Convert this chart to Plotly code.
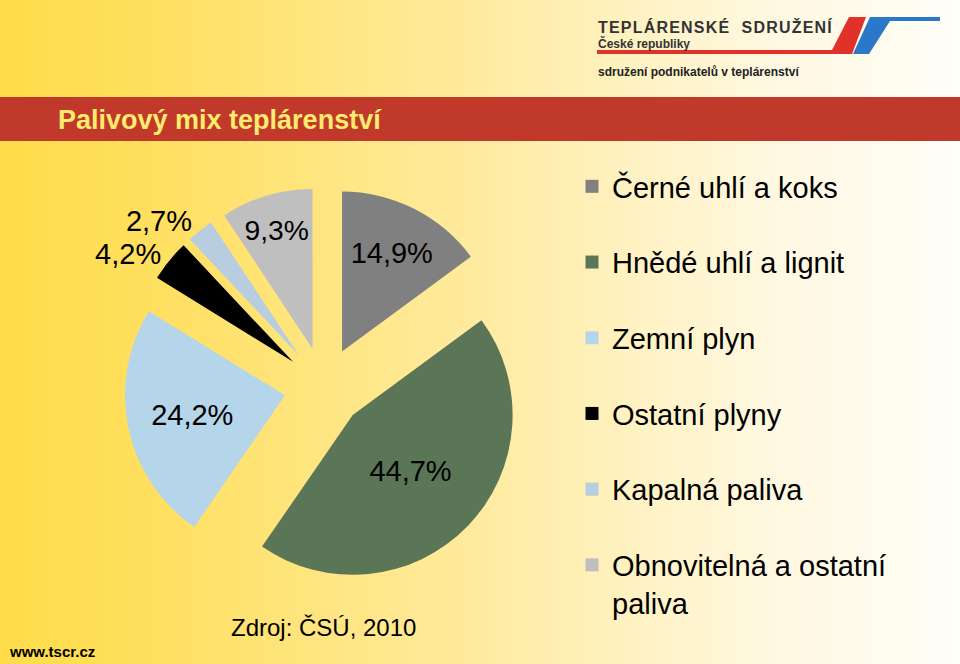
import plotly.graph_objects as go

# fuel mix of heat production, CZ 2010 (source: ČSÚ)
LABELS = [
    "Černé uhlí a koks",
    "Hnědé uhlí a lignit",
    "Zemní plyn",
    "Ostatní plyny",
    "Kapalná paliva",
    "Obnovitelná a ostatní paliva",
]
LEGEND_TEXT = [
    "Černé uhlí a koks",
    "Hnědé uhlí a lignit",
    "Zemní plyn",
    "Ostatní plyny",
    "Kapalná paliva",
    "Obnovitelná a ostatní<br>paliva",
]
SHARES = [14.9, 44.7, 24.2, 4.2, 2.7, 9.3]
COLORS = ["#808080", "#5A7656", "#B4D5EA", "#000000", "#B9CDE0", "#BFBFBF"]
TEXT_POS = ["inside", "inside", "inside", "outside", "outside", "inside"]

# horizontal background gradient (yellow -> off-white)
BG_X = [0, 1]
BG_SCALE = [
    [0.0, "#FFDC48"],
    [0.15, "#FFDF5E"],
    [0.5, "#FFEBA0"],
    [0.8, "#FFF8E0"],
    [1.0, "#FFFEF8"],
]

FONT = "Liberation Sans, Arial, sans-serif"

fig = go.Figure()

fig.add_trace(
    go.Heatmap(
        x=BG_X,
        y=[0],
        z=[BG_X],
        colorscale=BG_SCALE,
        zsmooth="best",
        showscale=False,
        hoverinfo="skip",
    )
)

fig.add_trace(
    go.Pie(
        labels=LABELS,
        values=SHARES,
        sort=False,
        direction="clockwise",
        rotation=0,
        pull=0.25,
        marker=dict(colors=COLORS, line=dict(width=0)),
        texttemplate="%{value:.1f}%",
        textposition=TEXT_POS,
        insidetextorientation="horizontal",
        textfont=dict(family=FONT, size=29, color="#000000"),
        showlegend=False,
        domain=dict(x=[0.129, 0.546], y=[0.116, 0.718]),
        hoverinfo="label+percent",
    )
)

# legend entries (one group each so the spacing can be opened up)
for name, color in zip(LEGEND_TEXT, COLORS):
    fig.add_trace(
        go.Scatter(
            x=[None],
            y=[None],
            mode="markers",
            name=name,
            legendgroup=name,
            marker=dict(symbol="square", size=13, color=color),
        )
    )

shapes = [
    # title bar
    dict(type="rect", xref="paper", yref="paper", x0=0, x1=1,
         y0=1 - 141 / 664, y1=1 - 97 / 664,
         fillcolor="#C0392B", line=dict(width=0), layer="above"),
    # logo: red underline + slanted stripe
    dict(type="path", xref="paper", yref="paper",
         path=f"M {597/960},{1-50/664} L {832/960},{1-50/664} L {849/960},{1-17/664} "
              f"L {866/960},{1-17/664} L {852/960},{1-54/664} L {597/960},{1-54/664} Z",
         fillcolor="#E0312A", line=dict(width=0), layer="above"),
    # logo: blue stripe
    dict(type="path", xref="paper", yref="paper",
         path=f"M {870/960},{1-17/664} L {940/960},{1-17/664} L {940/960},{1-21/664} "
              f"L {890/960},{1-21/664} L {869/960},{1-54/664} L {853/960},{1-54/664} Z",
         fillcolor="#2C78C8", line=dict(width=0), layer="above"),
]

annotations = [
    dict(text="Palivový mix teplárenství", x=56 / 960, y=1 - 120 / 664,
         xanchor="left", yanchor="middle",
         font=dict(family=FONT, size=27, color="#FFEB6E", weight="bold")),
    dict(text='<span style="letter-spacing:1.2px">TEPLÁRENSKÉ  SDRUŽENÍ</span>',
         x=596 / 960, y=1 - 27 / 664, xanchor="left", yanchor="middle",
         font=dict(family=FONT, size=16, color="#333333", weight="bold")),
    dict(text="České republiky", x=596 / 960, y=1 - 43 / 664,
         xanchor="left", yanchor="middle",
         font=dict(family=FONT, size=12, color="#333333", weight="bold")),
    dict(text="sdružení podnikatelů v teplárenství", x=596 / 960, y=1 - 72 / 664,
         xanchor="left", yanchor="middle",
         font=dict(family=FONT, size=12, color="#222222", weight="bold")),
    dict(text="Zdroj: ČSÚ, 2010", x=229 / 960, y=1 - 627 / 664,
         xanchor="left", yanchor="middle",
         font=dict(family=FONT, size=24, color="#000000")),
    dict(text="www.tscr.cz", x=7 / 960, y=1 - 651 / 664,
         xanchor="left", yanchor="middle",
         font=dict(family=FONT, size=15, color="#000000", weight="bold")),
]
for a in annotations:
    a.update(xref="paper", yref="paper", showarrow=False)

fig.update_layout(
    width=960,
    height=664,
    margin=dict(l=0, r=0, t=0, b=0),
    paper_bgcolor="#FFFFFF",
    plot_bgcolor="rgba(0,0,0,0)",
    separators=", ",
    xaxis=dict(visible=False, range=[0, 1], domain=[0, 1], fixedrange=True),
    yaxis=dict(visible=False, range=[-0.5, 0.5], domain=[0, 1], fixedrange=True),
    shapes=shapes,
    annotations=annotations,
    legend=dict(
        x=572 / 960,
        y=1 - 161 / 664,
        xanchor="left",
        yanchor="top",
        traceorder="grouped",
        tracegroupgap=35,
        valign="top",
        bgcolor="rgba(0,0,0,0)",
        font=dict(family=FONT, size=29, color="#000000"),
    ),
    showlegend=True,
)

# drop the browser's default body margin so the figure sits at the page corner
fig.write_html(
    "out.html",
    config={"displayModeBar": False},
    post_script="document.body.style.margin = '0';",
)
